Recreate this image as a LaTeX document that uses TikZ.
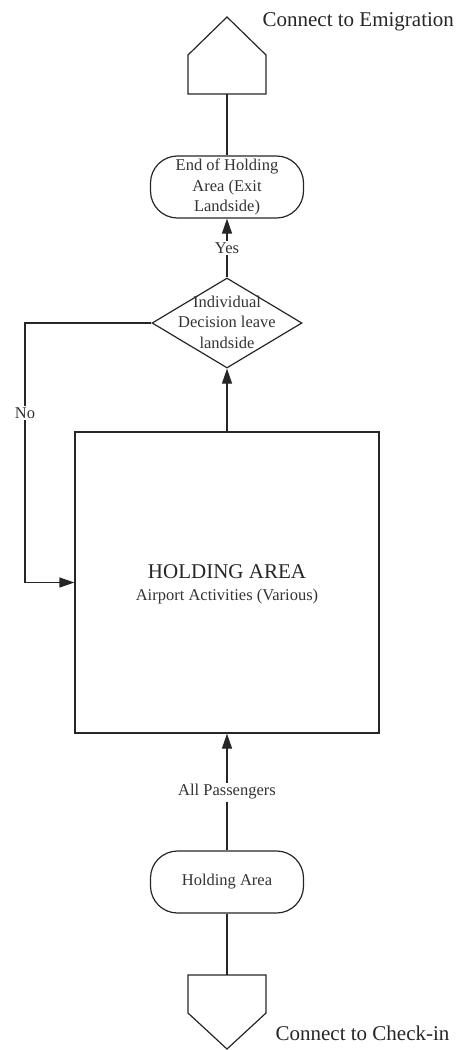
\documentclass[tikz,border=0pt]{standalone}
\usepackage{fontspec}
\setmainfont{Liberation Serif}
\usetikzlibrary{shapes.geometric,arrows.meta}
\begin{document}
\begin{tikzpicture}[x=1pt,y=-1pt,line width=1.2pt,
  line/.style={draw=black!85},
  flow/.style={line,-{Triangle[length=15pt,width=10pt]}},
  txt/.style={font=\fontsize{16.5}{20.5}\selectfont,text=black!80,align=center,inner sep=1pt},
  big/.style={font=\fontsize{21}{24}\selectfont,text=black!85},
  terminal/.style={line,rectangle,rounded corners=27pt,minimum width=153pt,minimum height=62pt,inner sep=0pt},
  decision/.style={line,diamond,minimum width=150pt,minimum height=90pt,inner sep=0pt},
  lbl/.style={txt,fill=white,inner sep=2pt}]
\useasboundingbox (0,0) rectangle (457,1050);

% off-page connectors
\draw[line] (188,94) -- (188,55) -- (227,17) -- (266,55) -- (266,94) -- cycle;
\coordinate (em) at (227,94);
\node[big,anchor=west,inner sep=0pt] (emtxt) at (262,22) {Connect to Emigration};

\draw[line] (188,975) -- (266,975) -- (266,1013) -- (227,1049) -- (188,1013) -- cycle;
\coordinate (ci) at (227,975);
\node[big,anchor=west,inner sep=0pt] (citxt) at (275,1033) {Connect to Check-in};

% process nodes
\node[terminal,txt] (exit) at (227,187) {End of Holding\\Area (Exit\\Landside)};
\node[decision] (dec) at (227,323) {};
\node[txt] (dectxt) at (227,322) {Individual\\Decision leave\\landside};
\node[line,rectangle,minimum width=304pt,minimum height=301pt] (box) at (227,582.5) {};
\node[big] (boxtitle) at (227,572) {HOLDING AREA};
\node[txt] (boxsub) at (227,597) {Airport Activities (Various)};
\node[terminal,txt] (hold) at (227,882) {Holding Area};

% connectors
\draw[line] (em) -- (exit.north);
\draw[flow] (dec.north) -- node[lbl] (yes) {Yes} (exit.south);
\draw[flow] (box.north) -- (dec.south);
\coordinate (nocorner) at (25,323);
\draw[flow] (dec.west) -- (nocorner) |- (box.west);
\node[lbl] (no) at (25,413) {No};
\draw[flow] (hold.north) -- node[lbl] (allp) {All Passengers} (box.south);
\draw[line] (hold.south) -- (ci);
\end{tikzpicture}
\end{document}
